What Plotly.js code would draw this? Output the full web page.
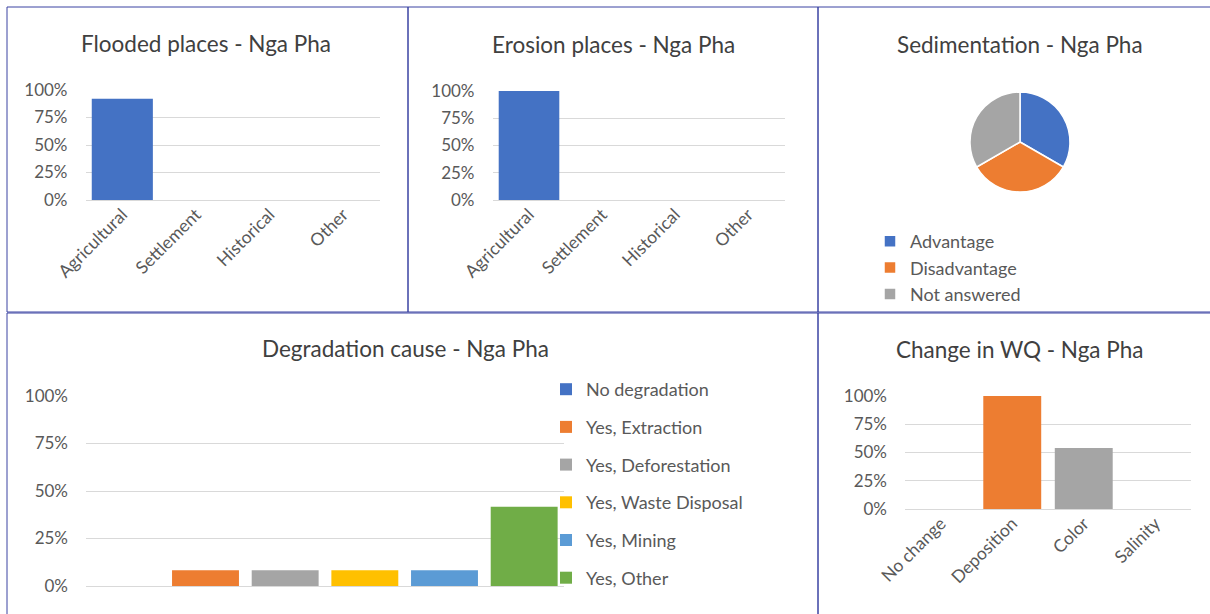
<!DOCTYPE html>
<html>
<head>
<meta charset="utf-8">
<script src="https://cdn.plot.ly/plotly-3.0.1.min.js"></script>
<style>html,body{margin:0;padding:0;background:#fff;}#chart{width:1210px;height:614px;}</style>
</head>
<body>
<div id="chart"></div>
<script>
// ---------- data ----------
const placeCats = ['Agricultural', 'Settlement', 'Historical', 'Other'];
const floodedVals = [0.92, 0, 0, 0];
const erosionVals = [1.0, 0, 0, 0];

const sedLabels = ['Advantage', 'Disadvantage', 'Not answered'];
const sedVals = [0.333, 0.333, 0.333];

const degGroup = ['Nga Pha'];
const degCauses = ['No degradation', 'Yes, Extraction', 'Yes, Deforestation', 'Yes, Waste Disposal', 'Yes, Mining', 'Yes, Other'];
const degVals = [0, 0.083, 0.083, 0.083, 0.083, 0.417];

const wqCats = ['No change', 'Deposition', 'Color', 'Salinity'];
const wqVals = [0, 1.0, 0.54, 0];

const titles = ['Flooded places - Nga Pha', 'Erosion places - Nga Pha', 'Sedimentation - Nga Pha', 'Degradation cause - Nga Pha', 'Change in WQ - Nga Pha'];

// ---------- style ----------
const W = 1210, H = 614;
const fx = p => p / W;
const fy = p => 1 - p / H;
const officeColors = ['#4472C4', '#ED7D31', '#A5A5A5', '#FFC000', '#5B9BD5', '#70AD47'];
const FONT = 'Lato, "Open Sans", sans-serif';
const tickColor = '#595959';
const gridColor = '#D9D9D9';
const borderColor = '#3B42A2';

function yAx(top, bottom, anchor) {
  return {
    domain: [fy(bottom), fy(top)], range: [0, 1], dtick: 0.25, tickformat: '.0%', anchor: anchor,
    showgrid: true, gridcolor: gridColor, gridwidth: 1,
    zeroline: true, zerolinecolor: gridColor, zerolinewidth: 1,
    showline: false, ticks: '', ticklabelstandoff: 17,
    tickfont: {family: FONT, size: 17, color: tickColor}, fixedrange: true
  };
}
function xAx(left, right, anchor, showLabels) {
  return {
    domain: [fx(left), fx(right)], anchor: anchor, type: 'category',
    showgrid: false, zeroline: false, showline: false, ticks: '',
    tickangle: -45, showticklabels: showLabels,
    tickfont: {family: FONT, size: 17.5, color: tickColor}, fixedrange: true
  };
}

const traces = [];
// Flooded
traces.push({type: 'bar', x: placeCats, y: floodedVals, xaxis: 'x', yaxis: 'y', width: 0.83,
  marker: {color: officeColors[0]}, showlegend: false});
// Erosion
traces.push({type: 'bar', x: placeCats, y: erosionVals, xaxis: 'x2', yaxis: 'y2', width: 0.83,
  marker: {color: officeColors[0]}, showlegend: false});
// Sedimentation pie
traces.push({type: 'pie', labels: sedLabels, values: sedVals, sort: false,
  direction: 'clockwise', rotation: 0, textinfo: 'none',
  marker: {colors: officeColors.slice(0, 3), line: {color: '#fff', width: 1.5}},
  domain: {x: [fx(969), fx(1071)], y: [fy(192), fy(92)]},
  legend: 'legend2'});
// Degradation
degCauses.forEach((c, i) => {
  traces.push({type: 'bar', name: c, x: degGroup, y: [degVals[i]], xaxis: 'x3', yaxis: 'y3',
    legendgroup: c, marker: {color: officeColors[i]}, legend: 'legend'});
});
// Change in WQ
traces.push({type: 'bar', x: wqCats, y: wqVals, xaxis: 'x4', yaxis: 'y4', width: 0.81,
  marker: {color: officeColors.slice(0, 4)}, showlegend: false});

const titlePos = [[206, 43], [613, 44], [1020, 44], [405, 348], [1020, 349]];
const annotations = titles.map((t, i) => ({
  text: t, xref: 'paper', yref: 'paper', x: fx(titlePos[i][0]), y: fy(titlePos[i][1]),
  xanchor: 'center', yanchor: 'middle', showarrow: false,
  font: {family: FONT, size: 22.5, color: '#404040'}
}));

const rects = [[7, 7, 408, 312], [408, 7, 818, 312], [818, 7, 1215, 312], [7, 313, 818, 620], [818, 313, 1215, 620]];
const shapes = rects.map(r => ({
  type: 'rect', xref: 'paper', yref: 'paper', x0: fx(r[0]), x1: fx(r[2]), y0: fy(r[3]), y1: fy(r[1]),
  line: {color: borderColor, width: 1}, fillcolor: 'rgba(0,0,0,0)', layer: 'above'
}));

const layout = {
  width: W, height: H, margin: {l: 0, r: 0, t: 0, b: 0},
  paper_bgcolor: '#fff', plot_bgcolor: '#fff',
  font: {family: FONT, color: tickColor},
  bargap: 0,
  bargroupgap: 0.16,
  barmode: 'group',
  xaxis: xAx(85.5, 380, 'y', true), yaxis: yAx(90, 200, 'x'),
  xaxis2: xAx(492.5, 784.5, 'y2', true), yaxis2: yAx(91, 200, 'x2'),
  xaxis3: xAx(86, 564, 'y3', false), yaxis3: yAx(396, 586, 'x3'),
  xaxis4: xAx(905, 1191, 'y4', true), yaxis4: yAx(396, 509, 'x4'),
  legend: {x: fx(546), y: fy(371), xanchor: 'left', yanchor: 'top', orientation: 'v',
    traceorder: 'grouped', tracegroupgap: 11.3, bgcolor: 'rgba(0,0,0,0)',
    font: {family: FONT, size: 18, color: tickColor}, itemclick: false, itemdoubleclick: false},
  legend2: {x: fx(870), y: fy(223), xanchor: 'left', yanchor: 'top', orientation: 'v',
    bgcolor: 'rgba(0,0,0,0)', font: {family: FONT, size: 18, color: tickColor},
    itemclick: false, itemdoubleclick: false},
  annotations: annotations,
  shapes: shapes
};

Plotly.newPlot('chart', traces, layout, {displayModeBar: false});
</script>
</body>
</html>
